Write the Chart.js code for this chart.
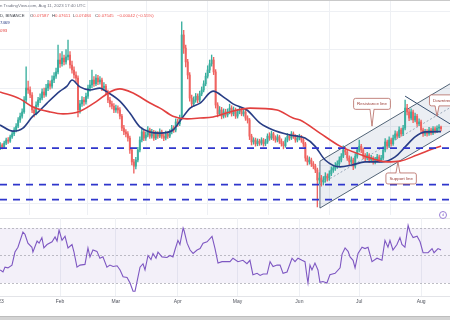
<!DOCTYPE html>
<html>
<head>
<meta charset="utf-8">
<script src="https://cdn.jsdelivr.net/npm/chart.js@4.4.0/dist/chart.umd.min.js"></script>
<style>
html,body{margin:0;padding:0;width:450px;height:320px;overflow:hidden;background:#fff;font-family:"Liberation Sans",Arial,sans-serif;}
#mainWrap{position:absolute;left:0;top:0;width:450px;height:215px;}
#rsiWrap{position:absolute;left:0;top:218px;width:450px;height:92px;}
.t{position:absolute;white-space:nowrap;font-size:4.3px;line-height:5px;}
#topbar{position:absolute;left:0;top:0;width:450px;height:1px;background:#c9c9c9;}
#sep{position:absolute;left:0;top:218px;width:450px;height:1px;background:#e6e7ea;}
#bottombar{position:absolute;left:0;top:316px;width:450px;height:4px;background:#d4d4d4;border-top:1px solid #bdbdbd;}
#icon{position:absolute;left:439px;top:211px;width:6px;height:6px;border:0.7px solid #9a7fd6;border-radius:50%;font-size:4px;line-height:6px;text-align:center;color:#9a7fd6;background:#fff;}
</style>
</head>
<body>
<div id="mainWrap"><canvas id="mainCanvas"></canvas></div>
<div id="sep"></div>
<div id="rsiWrap"><canvas id="rsiCanvas"></canvas></div>
<div id="topbar"></div>
<div class="t" style="left:0;top:3px;color:#6f7380;">n TradingView.com, Aug 11, 2023 17:40 UTC</div>
<div class="t" style="left:0;top:13px;color:#3a3d46;">D, BINANCE</div>
<div class="t" style="left:30px;top:13px;color:#3a3d46;">O<span style="color:#ef5350">0.07587</span></div>
<div class="t" style="left:52px;top:13px;color:#3a3d46;">H<span style="color:#ef5350">0.07611</span></div>
<div class="t" style="left:73px;top:13px;color:#3a3d46;">L<span style="color:#ef5350">0.07484</span></div>
<div class="t" style="left:95px;top:13px;color:#3a3d46;">C<span style="color:#ef5350">0.07545</span></div>
<div class="t" style="left:117px;top:13px;color:#ef5350;">−0.00042 (−0.55%)</div>
<div class="t" style="left:0;top:20px;color:#283d85;">7469</div>
<div class="t" style="left:0;top:28px;color:#e2403f;">093</div>
<div id="icon">d</div>
<div id="bottombar"></div>
<script>
// ---------------- DATA ----------------
// day index: 0 = 1 Jan 2023; candles run from day 1 (2 Jan) to day 222 (11 Aug)
const firstDay = 1;
const firstOpen = 0.0705;
const closes = [
.0712,.0707,.0717,.0725,.0722,.0733,.0741,.0751,.0761,.0777,
.0787,.0798,.0829,.0860,.0855,.0842,.0803,.0795,.0816,.0829,
.0834,.0850,.0842,.0860,.0871,.0865,.0881,.0891,.0902,.0933,
.0923,.0938,.0928,.0941,.0946,.0920,.0907,.0894,.0886,.0803,
.0819,.0829,.0824,.0839,.0860,.0868,.0881,.0871,.0886,.0876,
.0881,.0860,.0865,.0850,.0829,.0819,.0813,.0803,.0808,.0803,
.0787,.0756,.0746,.0741,.0730,.0699,.0668,.0657,.0673,.0699,
.0725,.0746,.0730,.0738,.0751,.0735,.0746,.0730,.0741,.0735,
.0746,.0735,.0730,.0741,.0735,.0746,.0756,.0751,.0772,.0767,
.0782,.0998,.0964,.0928,.0894,.0834,.0819,.0829,.0839,.0829,
.0845,.0855,.0871,.0891,.0907,.0923,.0933,.0902,.0816,.0793,
.0803,.0787,.0798,.0790,.0798,.0808,.0793,.0803,.0787,.0798,
.0803,.0793,.0798,.0782,.0777,.0735,.0720,.0725,.0715,.0722,
.0717,.0725,.0715,.0720,.0735,.0730,.0741,.0730,.0725,.0733,
.0722,.0715,.0710,.0725,.0735,.0730,.0741,.0735,.0725,.0730,
.0733,.0725,.0715,.0678,.0668,.0673,.0663,.0657,.0647,.0621,
.0626,.0616,.0621,.0631,.0626,.0637,.0647,.0652,.0657,.0663,
.0673,.0683,.0699,.0694,.0678,.0668,.0673,.0657,.0683,.0699,
.0709,.0699,.0683,.0678,.0686,.0673,.0678,.0668,.0673,.0681,
.0673,.0678,.0699,.0720,.0709,.0725,.0715,.0730,.0741,.0735,
.0751,.0741,.0756,.0808,.0798,.0782,.0798,.0777,.0787,.0767,
.0772,.0751,.0741,.0746,.0741,.0751,.0743,.0754,.0748,.0756,
.07587,.07545];
const highs = [
.0718,.0716,.0722,.0730,.0731,.0738,.0746,.0757,.0768,.0783,
.0795,.0806,.0838,.0915,.0878,.0863,.0848,.0812,.0824,.0836,
.0845,.0858,.0860,.0870,.0880,.0879,.0892,.0900,.0912,.0972,
.0950,.0955,.0946,.0960,.0985,.0955,.0930,.0915,.0902,.0892,
.0828,.0838,.0836,.0847,.0868,.0880,.0907,.0890,.0895,.0893,
.0890,.0886,.0874,.0870,.0855,.0836,.0826,.0820,.0816,.0814,
.0809,.0792,.0763,.0752,.0747,.0735,.0704,.0675,.0680,.0706,
.0733,.0756,.0752,.0746,.0760,.0756,.0753,.0750,.0748,.0747,
.0754,.0751,.0741,.0748,.0747,.0752,.0763,.0762,.0780,.0779,
.0790,.1032,.1010,.0972,.0935,.0900,.0842,.0837,.0846,.0845,
.0852,.0863,.0879,.0899,.0918,.0933,.0946,.0940,.0908,.0822,
.0812,.0810,.0806,.0805,.0806,.0818,.0814,.0811,.0808,.0805,
.0812,.0809,.0805,.0802,.0788,.0781,.0740,.0731,.0730,.0728,
.0727,.0731,.0729,.0727,.0741,.0744,.0748,.0745,.0736,.0739,
.0737,.0728,.0721,.0731,.0742,.0740,.0747,.0746,.0739,.0737,
.0740,.0737,.0729,.0719,.0684,.0681,.0678,.0669,.0662,.0652,
.0640,.0633,.0630,.0640,.0637,.0645,.0655,.0660,.0666,.0671,
.0681,.0690,.0710,.0706,.0700,.0684,.0681,.0678,.0690,.0706,
.0725,.0714,.0704,.0690,.0693,.0690,.0685,.0682,.0680,.0688,
.0686,.0685,.0707,.0729,.0725,.0733,.0730,.0738,.0749,.0747,
.0759,.0756,.0763,.0829,.0818,.0805,.0806,.0803,.0795,.0792,
.0780,.0777,.0756,.0753,.0752,.0758,.0756,.0760,.0759,.0762,
.0765,.07611];
const lows = [
.0700,.0702,.0703,.0713,.0716,.0719,.0729,.0736,.0746,.0757,
.0771,.0782,.0794,.0823,.0846,.0835,.0796,.0785,.0790,.0811,
.0822,.0829,.0836,.0838,.0853,.0857,.0860,.0874,.0885,.0897,
.0914,.0917,.0920,.0922,.0933,.0912,.0899,.0886,.0876,.0785,
.0795,.0812,.0815,.0818,.0833,.0852,.0861,.0864,.0866,.0869,
.0870,.0853,.0854,.0843,.0822,.0811,.0806,.0796,.0797,.0795,
.0780,.0749,.0739,.0733,.0722,.0690,.0660,.0639,.0650,.0668,
.0694,.0720,.0723,.0724,.0733,.0729,.0730,.0724,.0726,.0729,
.0731,.0729,.0723,.0725,.0729,.0731,.0741,.0745,.0746,.0760,
.0762,.0778,.0950,.0915,.0884,.0826,.0810,.0813,.0823,.0822,
.0824,.0840,.0850,.0866,.0886,.0900,.0917,.0895,.0808,.0785,
.0788,.0780,.0782,.0784,.0785,.0793,.0787,.0788,.0781,.0782,
.0793,.0788,.0787,.0776,.0769,.0726,.0712,.0714,.0709,.0710,
.0711,.0712,.0709,.0710,.0716,.0724,.0726,.0724,.0719,.0720,
.0716,.0709,.0702,.0706,.0720,.0724,.0726,.0729,.0719,.0720,
.0725,.0719,.0708,.0670,.0660,.0662,.0656,.0650,.0640,.0551,
.0612,.0605,.0608,.0615,.0618,.0620,.0632,.0641,.0646,.0651,
.0658,.0668,.0679,.0687,.0672,.0661,.0662,.0648,.0652,.0678,
.0694,.0692,.0676,.0671,.0673,.0667,.0668,.0662,.0663,.0668,
.0667,.0669,.0674,.0694,.0702,.0705,.0709,.0711,.0725,.0729,
.0731,.0735,.0736,.0751,.0790,.0775,.0777,.0770,.0772,.0760,
.0762,.0744,.0734,.0736,.0735,.0737,.0738,.0739,.0743,.0744,
.0750,.07484];

// moving averages
const maFastDays = [0.9,7.4,12.4,17.4,19.5,24.5,31,34.5,37,41,46,51,54.5,61,66,71,76,81.1,87.6,91.1,96.2,101.2,107.7,113.7,117.7,124.7,131.3,137.8,146.3,153.8,158.8,163.9,171.4,177.4,183.9,192.4,199,204,209,214,222];
const maFastValues = [.0764,.0748,.0756,.0787,.0795,.0821,.0852,.0865,.0881,.0863,.0855,.0860,.0850,.0826,.0795,.0759,.0746,.0743,.0751,.0774,.0808,.0821,.0852,.0834,.0819,.0803,.0769,.0751,.0738,.0730,.0709,.0673,.0655,.0660,.0668,.0668,.0681,.0707,.0733,.0746,.07469];
const maSlowDays = [0.9,10.9,17.4,26,32.5,41,49.5,56,61,67.6,76.1,81.1,87.6,94.7,101.2,107.7,116.2,126.2,139.8,147.8,151.3,161.3,171.4,183.9,194.9,201.4,210,218,222];
const maSlowValues = [.0850,.0832,.0811,.0798,.0793,.0800,.0826,.0850,.0858,.0847,.0821,.0808,.0787,.0780,.0782,.0785,.0798,.0808,.0803,.0782,.0777,.0743,.0709,.0683,.0668,.0670,.0686,.0702,.07093];

// drawn levels and trend lines
const supportLevels = [0.0704, 0.0609, 0.0570];
const channelDays = [161.3, 226.5];
const channelUpper = [0.0670, 0.0871];
const channelMid = [0.0609, 0.0809];
const channelLower = [0.0548, 0.0748];
const downtrendDays = [204, 226.5];
const downtrendPrices = [0.0839, 0.0767];

// RSI
const rsiDays = [1,2.4,3.4,4.9,6.9,8.4,9.9,12.4,13.4,14.9,16.9,17.4,19.5,20.5,21.9,22.9,24.5,27,28.5,29.5,30.5,32,33.5,35,37,38,39.5,41,43.5,45,46,47.5,49.5,51,52.5,54.5,56,57.6,59.6,61.1,62.6,64.6,66.1,67.6,68.6,69.6,71.1,72.6,73.6,75.1,76.6,77.6,79.1,80.1,82.1,84.6,86.1,87.6,88.6,90.1,91.1,92.7,93.2,94.7,96.2,97.7,99.7,101.2,102.7,104.7,107.2,108.7,110.2,112.2,113.7,116.2,117.7,120.2,122.7,124.7,126.2,127.7,129.8,131.3,132.8,134.8,136.3,137.8,139.8,141.3,142.8,144.8,147.3,148.8,150.3,152.3,153.8,154.8,155.3,156.3,157.3,158.8,160.3,161.3,162.8,164.8,166.3,168.9,171.4,172.4,173.9,175.4,176.4,177.9,178.9,180.4,182.4,183.9,185.4,187.4,189.9,192.4,192.9,193.9,195.4,196.4,197.9,199.9,201.4,202.4,203.9,205.5,206.5,208,210,211.5,213,215.5,217.5,218.5,220.5,222];
const rsiValues = [39.5,38,41.5,41,43,52.5,56,67,65.5,59,56,52.5,60.5,59,63,55.5,58,60,63.5,60.5,68.5,61,64,55.5,58,52.5,41.5,43,43.5,55.5,49,54,53,48,49,41.5,43,42,42.5,39.5,34.5,34,30,24,24,31,41.5,44,39.5,50,47,51.5,48,52.5,49,48.5,50,49,54,61,58,70,68,59,54,51.5,54,55,59,60,64,55,44.5,45.5,45.5,45.5,48,45.5,46.5,44,46.5,36,37,35.5,36.5,36.5,45.5,42,43,43,37,38,48,45.5,48,46.5,45.5,34.5,30,43,39.5,44.5,39.5,30.5,31,30,36,37,41,51,55.5,53,49,46.5,41,51.5,56,55,56,45.5,48,46.5,51.5,61,56,61,54,58,63,58,56,72,67,63,64,60,52,52,55,52,55,54];
const rsiLevels = [70, 50, 30];

// x-axis
const monthDays = [0, 31, 59, 90, 120, 151, 181, 212];
const monthLabels = ['2023', 'Feb', 'Mar', 'Apr', 'May', 'Jun', 'Jul', 'Aug'];
const gridPrices = [0.1059, 0.0959, 0.0859, 0.0759, 0.0659, 0.0559];

// ---------------- VIEW ----------------
const xMin = 0.9, xMax = 226.5;
const yMin = 0.0530, yMax = 0.1089;
const rsiMin = 20.5, rsiMax = 77.3;
const FONT = '"Liberation Sans", Arial, sans-serif';
const GREEN = '#3aaf9f', RED = '#ef6461';

const callouts = [
  {text: 'Resistance line', day: 187.4, price: 0.0819, tipDay: 187.4, tipPrice: 0.0761},
  {text: 'Support line', day: 202.0, price: 0.0625, tipDay: 200.4, tipPrice: 0.0668},
  {text: 'Downtrend line', day: 225.3, price: 0.0828, tipDay: 220.0, tipPrice: 0.0787}
];

const days = closes.map((_, i) => firstDay + i);
const opens = closes.map((c, i) => i === 0 ? firstOpen : closes[i - 1]);
const candleColors = closes.map((c, i) => c >= opens[i] ? GREEN : RED);
const pts = (xs, ys) => xs.map((x, i) => ({x: x, y: ys[i]}));

const lineDs = (data, color, width, extra) => Object.assign({
  type: 'line', data: data, borderColor: color, borderWidth: width,
  pointRadius: 0, fill: false, tension: 0
}, extra || {});

const datasets = [];
// channel (fill between upper & lower)
datasets.push(lineDs(pts(channelDays, channelUpper), '#3f5468', 0.9, {order: 6}));
datasets.push(lineDs(pts(channelDays, channelLower), '#3f5468', 0.9, {order: 6, fill: '-1', backgroundColor: 'rgba(130,150,178,0.16)'}));
datasets.push(lineDs([{x: channelDays[0], y: channelLower[0]}, {x: channelDays[0], y: channelUpper[0]}], '#3f5468', 0.9, {order: 6}));
datasets.push(lineDs(pts(channelDays, channelMid), '#8797ab', 0.8, {order: 6, borderDash: [2, 2]}));
datasets.push(lineDs(pts(downtrendDays, downtrendPrices), '#2c4566', 1, {order: 6}));
// candles
datasets.push({type: 'bar', grouped: false, order: 4, barThickness: 0.7,
  data: days.map((d, i) => ({x: d, y: [lows[i], highs[i]]})), backgroundColor: candleColors});
datasets.push({type: 'bar', grouped: false, order: 3, barThickness: 1.3,
  data: days.map((d, i) => ({x: d, y: [opens[i], closes[i]]})), backgroundColor: candleColors});
// moving averages
datasets.push(lineDs(pts(maSlowDays, maSlowValues), '#e2403f', 1.6, {order: 2, tension: 0.4, cubicInterpolationMode: 'monotone'}));
datasets.push(lineDs(pts(maFastDays, maFastValues), '#283d85', 1.6, {order: 2, tension: 0.4, cubicInterpolationMode: 'monotone'}));
// support levels
supportLevels.forEach(l => datasets.push(lineDs([{x: xMin, y: l}, {x: xMax, y: l}], '#2f36cc', 1.6, {order: 1, borderDash: [7, 6]})));

const calloutPlugin = {
  id: 'callouts',
  afterDatasetsDraw(chart) {
    const ctx = chart.ctx, x = chart.scales.x, y = chart.scales.y;
    ctx.save();
    ctx.font = '4.4px ' + FONT;
    callouts.forEach(c => {
      const cx = x.getPixelForValue(c.day), cy = y.getPixelForValue(c.price);
      const tx = x.getPixelForValue(c.tipDay), ty = y.getPixelForValue(c.tipPrice);
      const w = ctx.measureText(c.text).width + 7, h = 11;
      const l = cx - w / 2, t = cy - h / 2;
      ctx.beginPath();
      if (ctx.roundRect) ctx.roundRect(l, t, w, h, 2); else ctx.rect(l, t, w, h);
      ctx.fillStyle = '#ffffff'; ctx.fill();
      ctx.strokeStyle = '#b4675f'; ctx.lineWidth = 0.8; ctx.stroke();
      const below = ty > cy;
      const by = below ? t + h : t;
      const bx = Math.min(Math.max(tx, l + 4), l + w - 4);
      const inset = below ? -0.9 : 0.9;
      ctx.beginPath(); ctx.moveTo(bx - 2, by + inset); ctx.lineTo(tx, ty); ctx.lineTo(bx + 2, by + inset); ctx.closePath();
      ctx.fill();
      ctx.beginPath(); ctx.moveTo(bx - 2, by); ctx.lineTo(tx, ty); ctx.lineTo(bx + 2, by); ctx.stroke();
      ctx.fillStyle = '#9b3d36'; ctx.textAlign = 'center'; ctx.textBaseline = 'middle';
      ctx.fillText(c.text, cx, cy + 0.3);
    });
    ctx.restore();
  }
};

const noPad = s => { s.paddingLeft = 0; s.paddingRight = 0; s.paddingTop = 0; s.paddingBottom = 0; };

new Chart(document.getElementById('mainCanvas'), {
  type: 'bar',
  data: {datasets: datasets},
  options: {
    responsive: true, maintainAspectRatio: false, animation: false, events: [],
    layout: {padding: 0},
    plugins: {legend: {display: false}, tooltip: {enabled: false}},
    scales: {
      x: {type: 'linear', min: xMin, max: xMax, offset: false,
        afterBuildTicks: s => { s.ticks = monthDays.map(v => ({value: v})); },
        afterFit: s => { s.height = 0; noPad(s); },
        ticks: {display: false}, grid: {color: '#eef0f4', drawTicks: false}, border: {display: false}},
      y: {type: 'linear', min: yMin, max: yMax,
        afterBuildTicks: s => { s.ticks = gridPrices.map(v => ({value: v})); },
        afterFit: s => { s.width = 0; noPad(s); },
        ticks: {display: false}, grid: {color: '#eef0f4', drawTicks: false}, border: {display: false}}
    }
  },
  plugins: [calloutPlugin]
});

const rsiPlugin = {
  id: 'rsiBand',
  beforeDatasetsDraw(chart) {
    const ctx = chart.ctx, a = chart.chartArea, y = chart.scales.y;
    const top = y.getPixelForValue(rsiLevels[0]), bot = y.getPixelForValue(rsiLevels[rsiLevels.length - 1]);
    ctx.save();
    ctx.fillStyle = 'rgba(126,87,194,0.09)';
    ctx.fillRect(a.left, top, a.right - a.left, bot - top);
    ctx.strokeStyle = '#a3a3ad'; ctx.lineWidth = 0.7; ctx.setLineDash([2, 2]);
    rsiLevels.forEach(v => {
      const py = Math.round(y.getPixelForValue(v)) + 0.5;
      ctx.beginPath(); ctx.moveTo(a.left, py); ctx.lineTo(a.right, py); ctx.stroke();
    });
    ctx.restore();
  }
};

new Chart(document.getElementById('rsiCanvas'), {
  type: 'line',
  data: {datasets: [lineDs(pts(rsiDays, rsiValues), '#7e57c2', 1.1)]},
  options: {
    responsive: true, maintainAspectRatio: false, animation: false, events: [],
    layout: {padding: 0},
    plugins: {legend: {display: false}, tooltip: {enabled: false}},
    scales: {
      x: {type: 'linear', min: xMin, max: xMax, offset: false,
        afterBuildTicks: s => { s.ticks = monthDays.map(v => ({value: v})); },
        afterFit: s => { s.height = 14; noPad(s); },
        ticks: {autoSkip: false, maxRotation: 0, padding: 3, color: '#4f525c',
          font: {size: 5, family: FONT},
          callback: v => monthLabels[monthDays.indexOf(v)]},
        grid: {color: '#eef0f4', drawTicks: false}, border: {display: true, color: '#e3e4e8'}},
      y: {type: 'linear', min: rsiMin, max: rsiMax,
        afterFit: s => { s.width = 0; noPad(s); },
        ticks: {display: false}, grid: {display: false}, border: {display: false}}
    }
  },
  plugins: [rsiPlugin]
});
</script>
</body>
</html>
